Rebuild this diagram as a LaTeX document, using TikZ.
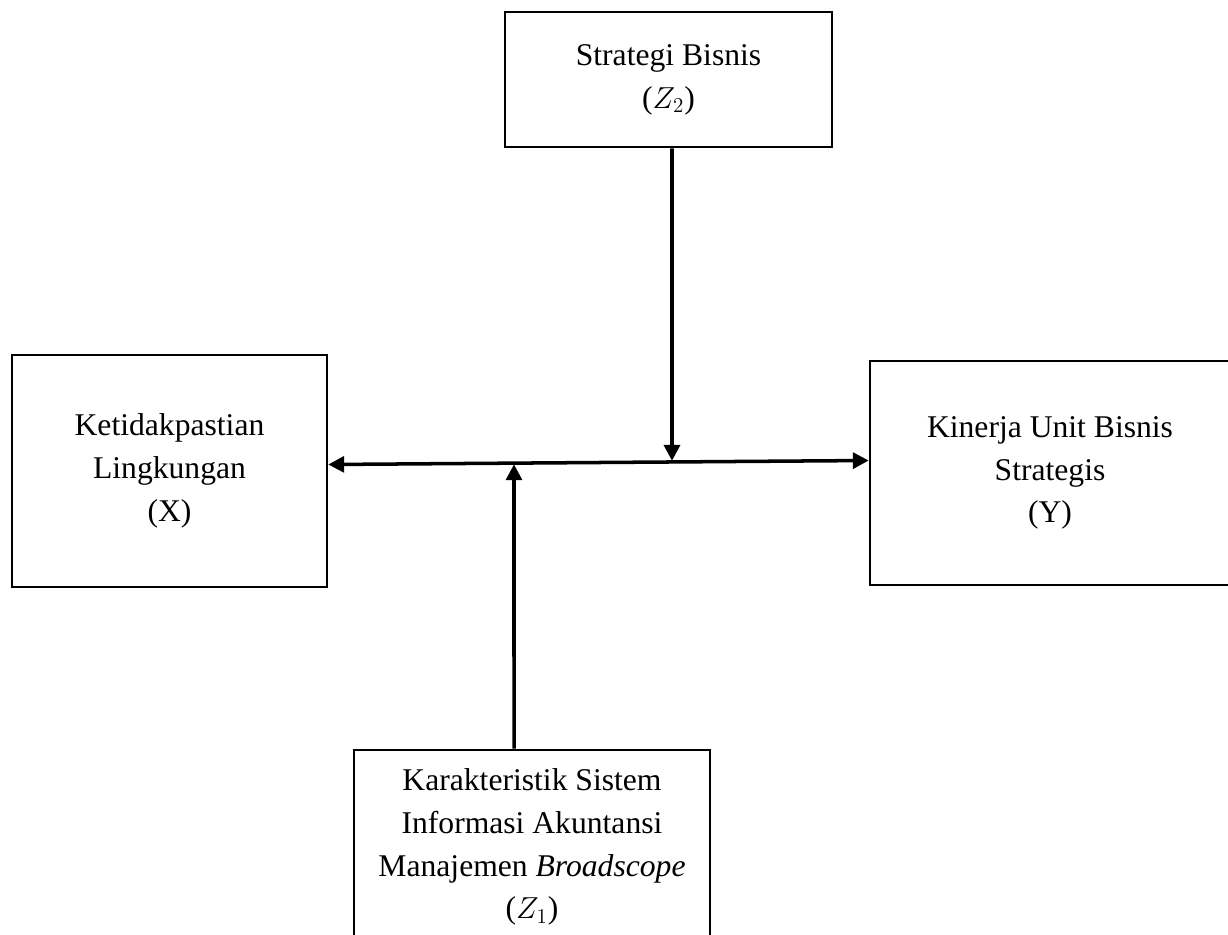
\documentclass[tikz,border=0pt]{standalone}
\usepackage{fontspec}
\setmainfont{Liberation Serif}
\usetikzlibrary{arrows.meta}

\begin{document}
\begin{tikzpicture}[x=0.02cm,y=-0.02cm,
    box/.style={draw,line width=1.5pt,align=center,inner sep=0pt,
      font=\fontsize{18}{24.4}\selectfont},
    link/.style={line width=2pt,-{Triangle[length=9pt,width=9pt]}}]
    \useasboundingbox (0,0) rectangle (1228,934);
    % variables
    \node[box,minimum width=6.3cm,minimum height=4.64cm] (X) at (169.5,471)
      {Ketidakpastian\\Lingkungan\\(X)};
    \node[box,minimum width=7.2cm,minimum height=4.48cm] (Y) at (1050,473)
      {Kinerja Unit Bisnis\\Strategis\\(Y)};
    \node[box,minimum width=6.54cm,minimum height=2.7cm] (Z2) at (668.5,79.5)
      {Strategi Bisnis\\($Z_2$)};
    \node[box,minimum width=7.12cm,minimum height=3.88cm] (Z1) at (532,847)
      {Karakteristik Sistem\\Informasi Akuntansi\\Manajemen \textit{Broadscope}\\($Z_1$)};
    % points where the moderators meet the main line
    \coordinate (hitZ2) at (672,460.8);
    \coordinate (hitZ1) at (514,464.3);
    \draw[link,{Triangle[length=9pt,width=9pt]}-{Triangle[length=9pt,width=9pt]}]
      ([yshift=0.13cm]X.east) -- ([yshift=0.25cm]Y.west);
    \draw[link] ([xshift=0.07cm]Z2.south) -- (hitZ2);
    \draw[link] ([xshift=-0.36cm]Z1.north) -- (hitZ1);
\end{tikzpicture}
\end{document}
